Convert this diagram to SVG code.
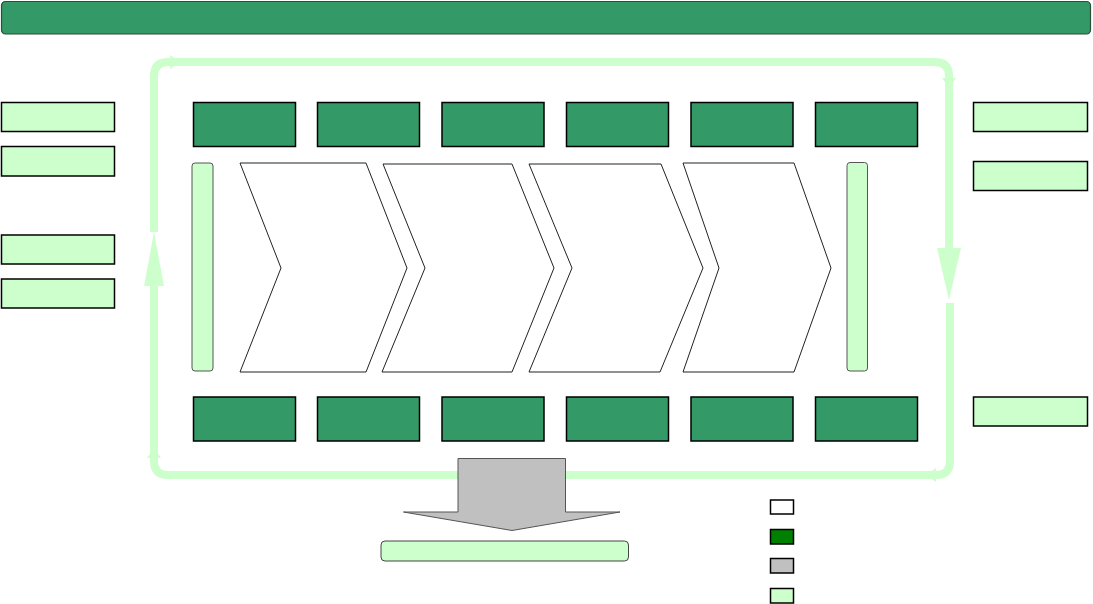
<svg xmlns="http://www.w3.org/2000/svg" width="1093" height="604" viewBox="0 0 1093 604">
<style>
.hdr{fill:#339966;stroke:#2b4d3b;stroke-width:1.2}
.dk{fill:#339966;stroke:#000;stroke-width:1.5}
.lt{fill:#ccffcc;stroke:#000;stroke-width:1.5}
.bar{fill:#ccffcc;stroke:#555;stroke-width:1}
.chev{fill:#fff;stroke:#222;stroke-width:1}
.loop{fill:none;stroke:#ccffcc;stroke-width:8}
.ah{fill:#ccffcc}
.gray{fill:#c0c0c0;stroke:#555;stroke-width:1}
.leg{stroke:#000;stroke-width:1.5}
</style>
<rect width="1093" height="604" fill="#fff"/>
<g id="header"><rect class="hdr" x="1.5" y="1.5" width="1089" height="32.5" rx="4"/></g>

<g id="connectors">
  <path class="loop" d="M154,232 L154,76 Q154,62 168,62 L176,62"/>
  <polygon class="ah" points="170,55 180,62 170,69"/>
  <path class="loop" d="M176,62 L935,62 Q949,62 949,76 L949,84"/>
  <polygon class="ah" points="942,78 949,88 956,78"/>
  <path class="loop" d="M949,84 L949,250"/>
  <polygon class="ah" points="937,248 961,248 949,300"/>
  <path class="loop" d="M950,303 L950,461 Q950,475 936,475 L930,475"/>
  <polygon class="ah" points="936,468 926,475 936,482"/>
  <path class="loop" d="M930,475 L168,475 Q154,475 154,461 L154,452"/>
  <polygon class="ah" points="147,458 154,448 161,458"/>
  <path class="loop" d="M154,452 L154,284"/>
  <polygon class="ah" points="144,286 164,286 154,232"/>
</g>

<g id="left-boxes">
  <g id="l1"><rect class="lt" x="1.5" y="102.5" width="113" height="29"/></g>
  <g id="l2"><rect class="lt" x="1.5" y="146.5" width="113" height="29.5"/></g>
  <g id="l3"><rect class="lt" x="1.5" y="235" width="113" height="29"/></g>
  <g id="l4"><rect class="lt" x="1.5" y="279" width="113" height="29"/></g>
</g>
<g id="right-boxes">
  <g id="r1"><rect class="lt" x="973.5" y="102.5" width="114" height="29"/></g>
  <g id="r2"><rect class="lt" x="973.5" y="161.5" width="114" height="29"/></g>
  <g id="r3"><rect class="lt" x="973.5" y="397" width="114" height="29"/></g>
</g>

<g id="top-row">
  <g id="t1"><rect class="dk" x="193.5" y="102.5" width="102" height="44"/></g>
  <g id="t2"><rect class="dk" x="317.5" y="102.5" width="102" height="44"/></g>
  <g id="t3"><rect class="dk" x="442" y="102.5" width="102" height="44"/></g>
  <g id="t4"><rect class="dk" x="566.5" y="102.5" width="102" height="44"/></g>
  <g id="t5"><rect class="dk" x="691" y="102.5" width="102" height="44"/></g>
  <g id="t6"><rect class="dk" x="815.5" y="102.5" width="102" height="44"/></g>
</g>
<g id="bottom-row">
  <g id="b1"><rect class="dk" x="193.5" y="397" width="102" height="44"/></g>
  <g id="b2"><rect class="dk" x="317.5" y="397" width="102" height="44"/></g>
  <g id="b3"><rect class="dk" x="442" y="397" width="102" height="44"/></g>
  <g id="b4"><rect class="dk" x="566.5" y="397" width="102" height="44"/></g>
  <g id="b5"><rect class="dk" x="691" y="397" width="102" height="44"/></g>
  <g id="b6"><rect class="dk" x="815.5" y="397" width="102" height="44"/></g>
</g>

<g id="left-bar"><rect class="bar" x="192" y="163" width="21" height="208" rx="3"/></g>
<g id="right-bar"><rect class="bar" x="847" y="162.5" width="20.5" height="208.5" rx="3"/></g>

<g id="chevrons">
  <g id="c1"><polygon class="chev" points="240,163 366,163 407,268 366,372 240,372 281,268"/></g>
  <g id="c2"><polygon class="chev" points="383,164 512,164 554,268 512,372 382,372 425,268"/></g>
  <g id="c3"><polygon class="chev" points="529,164 661,164 703,268 660,372 529,372 572,268"/></g>
  <g id="c4"><polygon class="chev" points="683,163 794,163 831,268 794,372 683,372 719,268"/></g>
</g>

<g id="gray-arrow"><polygon class="gray" points="458,458.5 565.5,458.5 565.5,512 620,512 512,530.5 403.5,512 458,512"/></g>
<g id="result-box"><rect x="381" y="541" width="247.5" height="20" rx="4" fill="#ccffcc" stroke="#444" stroke-width="1"/></g>

<g id="legend">
  <rect class="leg" x="770.5" y="500" width="23" height="14" fill="#fff"/>
  <rect class="leg" x="770.5" y="529.5" width="23" height="14.5" fill="#008000"/>
  <rect class="leg" x="770.5" y="558.5" width="23" height="14.5" fill="#c0c0c0"/>
  <rect class="leg" x="770.5" y="588.5" width="23" height="14.5" fill="#ccffcc"/>
</g>
</svg>
